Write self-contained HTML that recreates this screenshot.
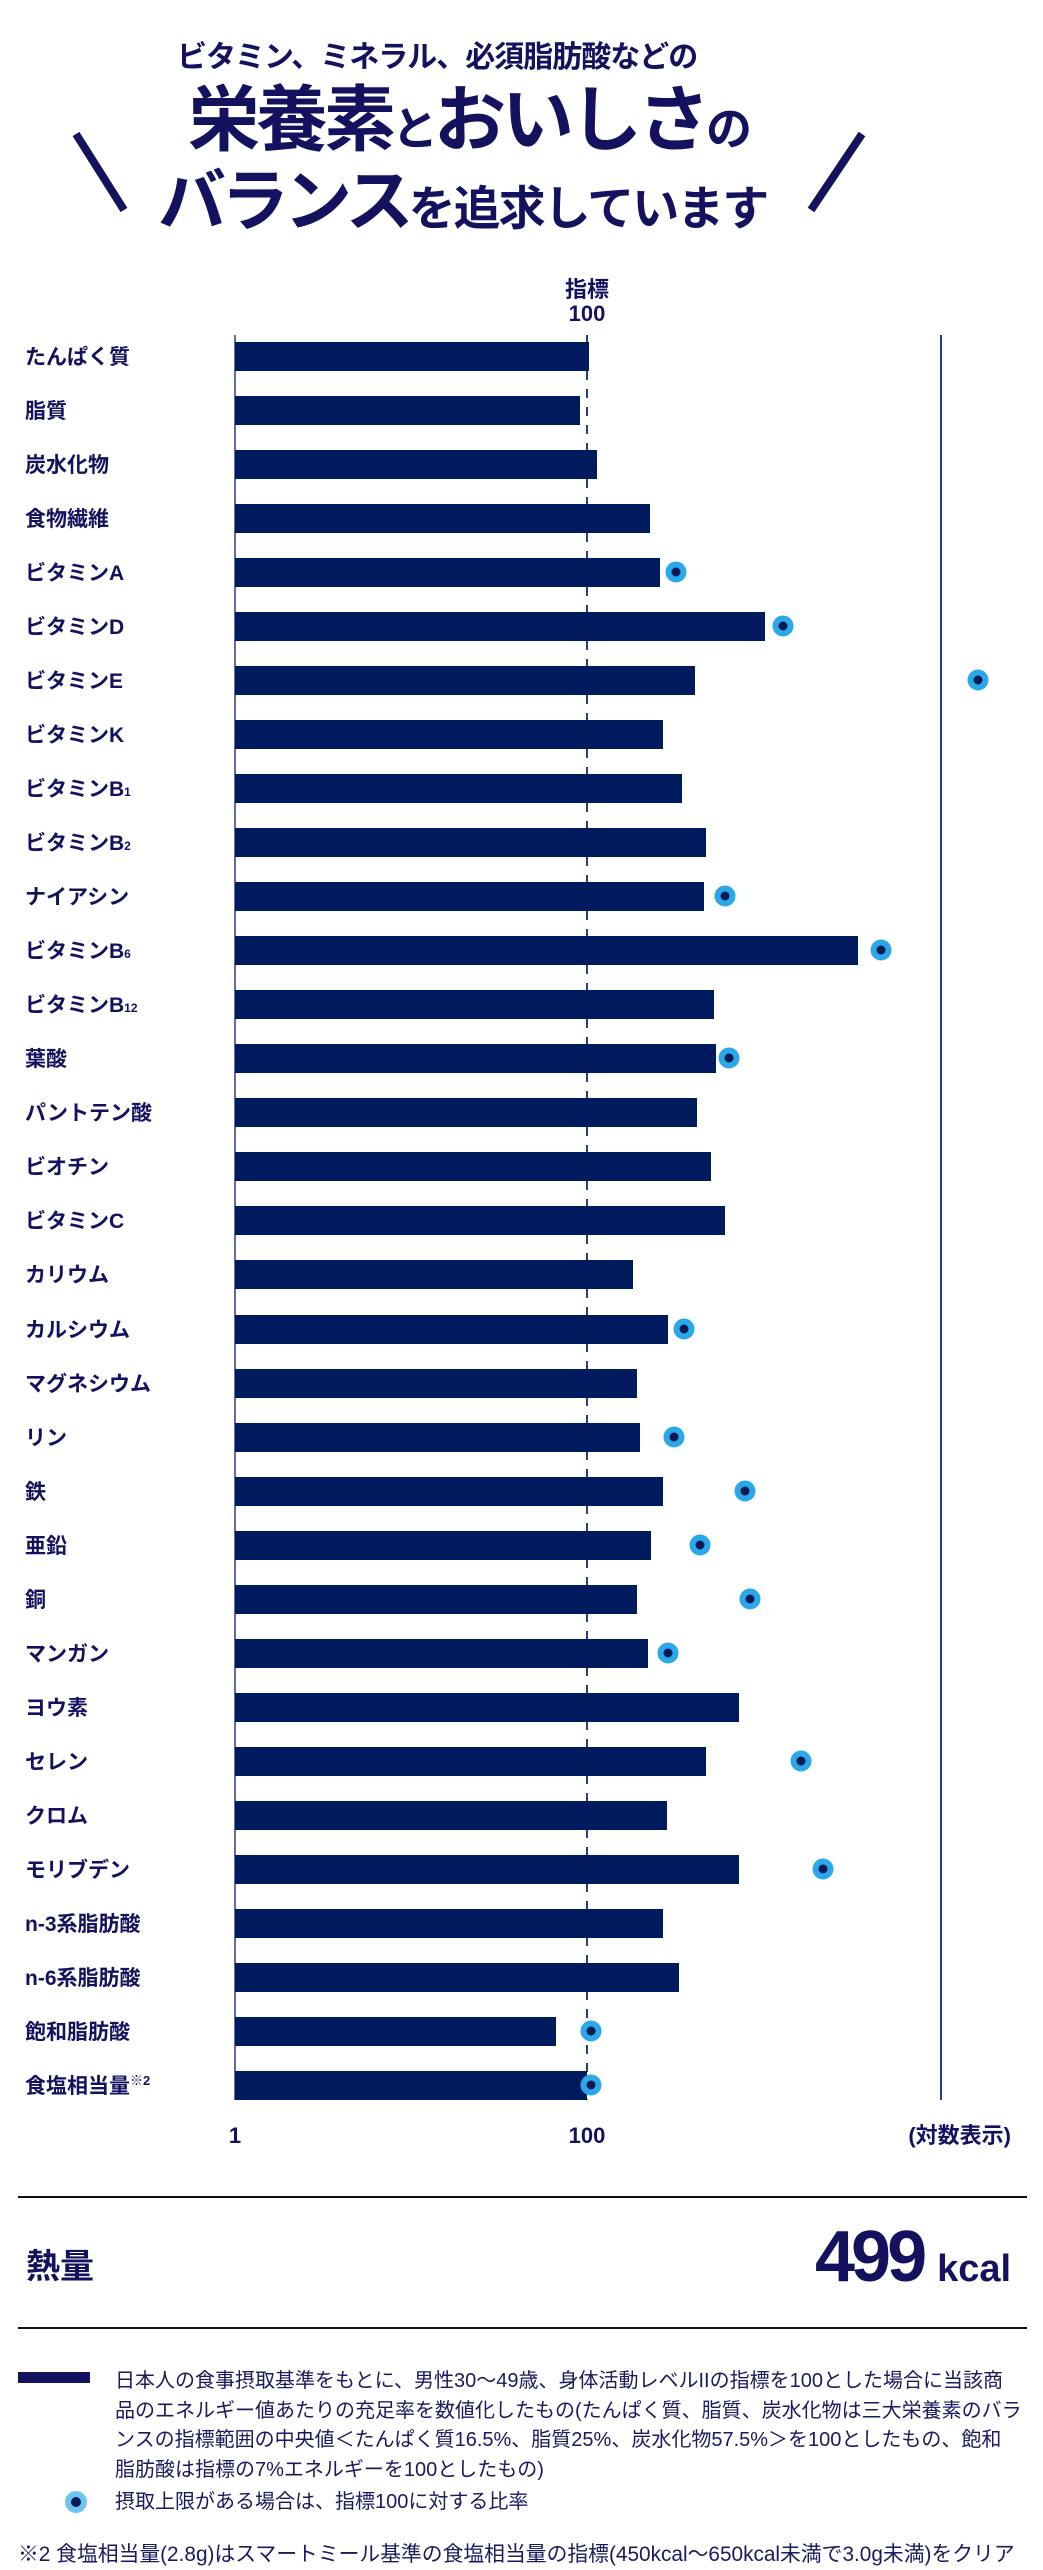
<!DOCTYPE html>
<html><head><meta charset="utf-8">
<style>
html,body{margin:0;padding:0;background:#fff;}
body{width:1043px;height:2570px;position:relative;overflow:hidden;font-family:"Liberation Sans","Noto Sans CJK JP",sans-serif;color:#14125e;}
.t{position:absolute;white-space:nowrap;font-weight:bold;}
.leg{position:absolute;left:115px;font-size:20px;line-height:29.5px;color:#1a1a5e;white-space:nowrap;}
</style></head><body>
<div class="t" style="left:177px;top:32px;font-size:30px;letter-spacing:-1px;">ビタミン、ミネラル、必須脂肪酸などの</div>
<div class="t" style="left:188px;top:76px;font-size:72px;letter-spacing:-4px;line-height:90px;">栄養素<span style="font-size:46px;">と</span>おいしさ<span style="font-size:46px;">の</span></div>
<div class="t" style="left:158px;top:160px;font-size:68px;letter-spacing:-5px;line-height:84px;">バランス<span style="font-size:47px;letter-spacing:-2px;">を追求しています</span></div>
<svg style="position:absolute;left:0;top:0" width="1043" height="260">
<line x1="76" y1="134" x2="124" y2="210" stroke="#14125e" stroke-width="8"/>
<line x1="862" y1="134" x2="811" y2="210" stroke="#14125e" stroke-width="8"/>
</svg>
<div class="t" style="left:565px;top:278px;font-size:22px;line-height:24px;text-align:center;width:44px;">指標<br>100</div>

<svg style="position:absolute;left:0;top:0" width="1043" height="2160" font-family="Liberation Sans, Noto Sans CJK JP, sans-serif">
<line x1="235" y1="335" x2="235" y2="2100" stroke="#2a3f78" stroke-width="1.5"/>
<line x1="941" y1="335" x2="941" y2="2100" stroke="#2a3f78" stroke-width="2"/>
<line x1="587" y1="335" x2="587" y2="2100" stroke="#2a3f78" stroke-width="2" stroke-dasharray="9,9"/>
<g fill="#001a5e">
<rect x="235" y="342" width="354" height="29"/>
<rect x="235" y="396" width="345" height="29"/>
<rect x="235" y="450" width="362" height="29"/>
<rect x="235" y="504" width="415" height="29"/>
<rect x="235" y="558" width="425" height="29"/>
<rect x="235" y="612" width="530" height="29"/>
<rect x="235" y="666" width="460" height="29"/>
<rect x="235" y="720" width="428" height="29"/>
<rect x="235" y="774" width="447" height="29"/>
<rect x="235" y="828" width="471" height="29"/>
<rect x="235" y="882" width="469" height="29"/>
<rect x="235" y="936" width="623" height="29"/>
<rect x="235" y="990" width="479" height="29"/>
<rect x="235" y="1044" width="481" height="29"/>
<rect x="235" y="1098" width="462" height="29"/>
<rect x="235" y="1152" width="476" height="29"/>
<rect x="235" y="1206" width="490" height="29"/>
<rect x="235" y="1260" width="398" height="29"/>
<rect x="235" y="1315" width="433" height="29"/>
<rect x="235" y="1369" width="402" height="29"/>
<rect x="235" y="1423" width="405" height="29"/>
<rect x="235" y="1477" width="428" height="29"/>
<rect x="235" y="1531" width="416" height="29"/>
<rect x="235" y="1585" width="402" height="29"/>
<rect x="235" y="1639" width="413" height="29"/>
<rect x="235" y="1693" width="504" height="29"/>
<rect x="235" y="1747" width="471" height="29"/>
<rect x="235" y="1801" width="432" height="29"/>
<rect x="235" y="1855" width="504" height="29"/>
<rect x="235" y="1909" width="428" height="29"/>
<rect x="235" y="1963" width="444" height="29"/>
<rect x="235" y="2017" width="321" height="29"/>
<rect x="235" y="2071" width="352" height="29"/>
</g>
<g fill="#0a1a55" stroke="#2aa8ea" stroke-width="6">
<circle cx="676" cy="572" r="7.5"/>
<circle cx="783" cy="626" r="7.5"/>
<circle cx="978" cy="680" r="7.5"/>
<circle cx="725" cy="896" r="7.5"/>
<circle cx="881" cy="950" r="7.5"/>
<circle cx="729" cy="1058" r="7.5"/>
<circle cx="684" cy="1329" r="7.5"/>
<circle cx="674" cy="1437" r="7.5"/>
<circle cx="745" cy="1491" r="7.5"/>
<circle cx="700" cy="1545" r="7.5"/>
<circle cx="750" cy="1599" r="7.5"/>
<circle cx="668" cy="1653" r="7.5"/>
<circle cx="801" cy="1761" r="7.5"/>
<circle cx="823" cy="1869" r="7.5"/>
<circle cx="591" cy="2031" r="7.5"/>
<circle cx="591" cy="2085" r="7.5"/>
</g>
<g fill="#14125e" font-size="21" font-weight="bold">
<text x="25" y="364">たんぱく質</text>
<text x="25" y="418">脂質</text>
<text x="25" y="472">炭水化物</text>
<text x="25" y="526">食物繊維</text>
<text x="25" y="580">ビタミンA</text>
<text x="25" y="634">ビタミンD</text>
<text x="25" y="688">ビタミンE</text>
<text x="25" y="742">ビタミンK</text>
<text x="25" y="796">ビタミンB<tspan font-size="12">1</tspan></text>
<text x="25" y="850">ビタミンB<tspan font-size="12">2</tspan></text>
<text x="25" y="904">ナイアシン</text>
<text x="25" y="958">ビタミンB<tspan font-size="12">6</tspan></text>
<text x="25" y="1012">ビタミンB<tspan font-size="12">12</tspan></text>
<text x="25" y="1066">葉酸</text>
<text x="25" y="1120">パントテン酸</text>
<text x="25" y="1174">ビオチン</text>
<text x="25" y="1228">ビタミンC</text>
<text x="25" y="1282">カリウム</text>
<text x="25" y="1337">カルシウム</text>
<text x="25" y="1391">マグネシウム</text>
<text x="25" y="1445">リン</text>
<text x="25" y="1499">鉄</text>
<text x="25" y="1553">亜鉛</text>
<text x="25" y="1607">銅</text>
<text x="25" y="1661">マンガン</text>
<text x="25" y="1715">ヨウ素</text>
<text x="25" y="1769">セレン</text>
<text x="25" y="1823">クロム</text>
<text x="25" y="1877">モリブデン</text>
<text x="25" y="1931">n-3系脂肪酸</text>
<text x="25" y="1985">n-6系脂肪酸</text>
<text x="25" y="2039">飽和脂肪酸</text>
<text x="25" y="2093">食塩相当量<tspan font-size="13" dy="-8">※2</tspan></text>
</g>
<g fill="#14125e" font-size="22" font-weight="bold">
<text x="235" y="2143" text-anchor="middle">1</text>
<text x="587" y="2143" text-anchor="middle">100</text>
<text x="1011" y="2143" text-anchor="end">(対数表示)</text>
</g>
</svg>

<div style="position:absolute;left:18px;top:2196px;width:1009px;height:2px;background:#111;"></div>
<div class="t" style="left:26px;top:2247px;font-size:34px;line-height:40px;">熱量</div>
<div class="t" style="left:815px;top:2222px;font-size:72px;line-height:70px;letter-spacing:-4px;">499<span style="font-size:38px;letter-spacing:0;margin-left:14px;">kcal</span></div>
<div style="position:absolute;left:18px;top:2327px;width:1009px;height:2px;background:#111;"></div>

<div style="position:absolute;left:18px;top:2372px;width:72px;height:11px;background:#14125e;"></div>
<div class="leg" style="top:2367px;">日本人の食事摂取基準をもとに、男性30～49歳、身体活動レベルIIの指標を100とした場合に当該商<br>品のエネルギー値あたりの充足率を数値化したもの(たんぱく質、脂質、炭水化物は三大栄養素のバラ<br>ンスの指標範囲の中央値＜たんぱく質16.5%、脂質25%、炭水化物57.5%＞を100としたもの、飽和<br>脂肪酸は指標の7%エネルギーを100としたもの)</div>
<svg style="position:absolute;left:64px;top:2490px" width="24" height="24"><circle cx="12" cy="12" r="8" fill="#0a1a55" stroke="#6cc4ef" stroke-width="6"/></svg>
<div class="leg" style="top:2488px;">摂取上限がある場合は、指標100に対する比率</div>
<div class="leg" style="left:18px;top:2540px;font-size:20.8px;">※2 食塩相当量(2.8g)はスマートミール基準の食塩相当量の指標(450kcal～650kcal未満で3.0g未満)をクリア</div>
</body></html>
